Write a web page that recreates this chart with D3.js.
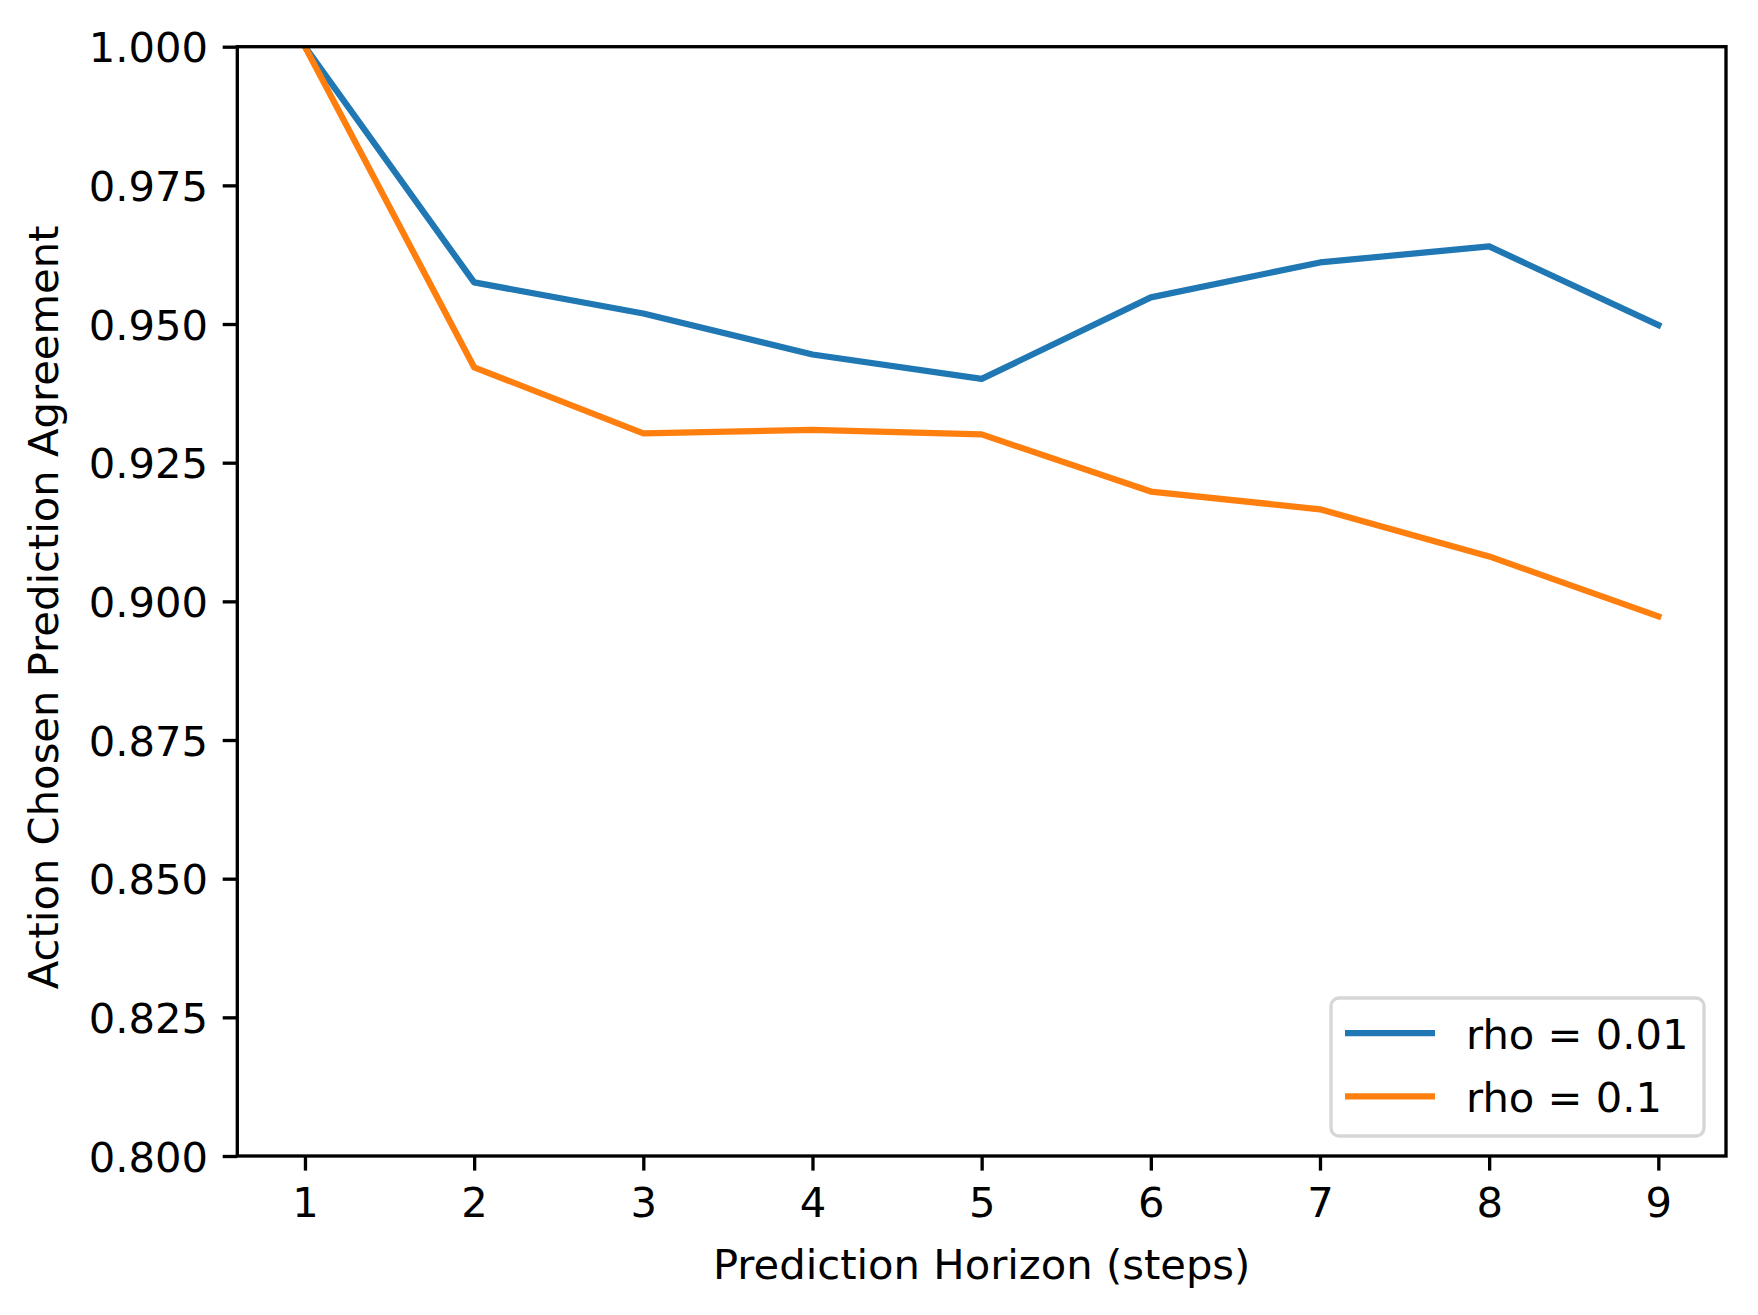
<!DOCTYPE html>
<html>
<head>
<meta charset="utf-8">
<script src="https://cdn.jsdelivr.net/npm/d3@7"></script>
<style>
  body { margin: 0; background: #fff; }
  text { font-family: "DejaVu Sans", sans-serif; fill: #000; }
</style>
</head>
<body>
<script>
// Data
var horizons = [1, 2, 3, 4, 5, 6, 7, 8, 9];
var rho001 = [1.000, 0.9575, 0.9519, 0.9445, 0.9401, 0.9548, 0.9611, 0.9640, 0.9498];
var rho01 = [1.000, 0.9422, 0.9303, 0.9309, 0.9301, 0.9198, 0.9166, 0.9081, 0.8973];
var seriesNames = ["rho = 0.01", "rho = 0.1"];
var yTicks = [0.800, 0.825, 0.850, 0.875, 0.900, 0.925, 0.950, 0.975, 1.000];

var series = [
  {name: seriesNames[0], values: rho001, color: "#1f77b4"},
  {name: seriesNames[1], values: rho01, color: "#ff7f0e"}
];

// Set up the dimensions of the chart
var W = 1758, H = 1315;
var margin = {top: 46.7, right: 32, bottom: 159, left: 237.3},
    width = W - margin.left - margin.right,
    height = H - margin.top - margin.bottom;

var fs = 41.7;        // 10pt at 300 dpi
var lw = 3.33;        // 0.8pt spine / tick width
var tickLen = 14.6;   // 3.5pt

var svg = d3.select("body").append("svg")
    .attr("width", W)
    .attr("height", H)
  .append("g")
    .attr("transform", "translate(" + margin.left + "," + margin.top + ")");

// X scale with matplotlib-like 5% margins
var x = d3.scaleLinear()
    .domain([1 - 0.4, 9 + 0.4])
    .range([0, width]);

// Y scale
var y = d3.scaleLinear()
    .domain([0.8, 1.0])
    .range([height, 0]);

svg.append("clipPath").attr("id", "clip")
  .append("rect").attr("width", width).attr("height", height);

// Lines
var line = d3.line()
    .x(function(d, i) { return x(horizons[i]); })
    .y(function(d) { return y(d); });

svg.append("g").attr("clip-path", "url(#clip)")
  .selectAll(".line")
  .data(series)
  .enter().append("path")
    .attr("class", "line")
    .attr("fill", "none")
    .attr("stroke", function(d) { return d.color; })
    .attr("stroke-width", 6.25)
    .attr("stroke-linejoin", "round")
    .attr("stroke-linecap", "square")
    .attr("d", function(d) { return line(d.values); });

// X axis
var xAxis = svg.append("g")
    .attr("transform", "translate(0," + height + ")")
    .call(d3.axisBottom(x).tickValues(horizons).tickFormat(d3.format("d"))
      .tickSize(tickLen).tickPadding(14.6));
xAxis.select(".domain").remove();
xAxis.selectAll("line").attr("stroke-width", lw);
xAxis.selectAll("text")
    .style("font-size", fs + "px")
    .attr("dy", "0.76em");

// Y axis
var yAxis = svg.append("g")
    .call(d3.axisLeft(y).tickValues(yTicks).tickFormat(d3.format(".3f"))
      .tickSize(tickLen).tickPadding(14.6));
yAxis.select(".domain").remove();
yAxis.selectAll("line").attr("stroke-width", lw);
yAxis.selectAll("text")
    .style("font-size", fs + "px")
    .attr("dy", "0.36em");

// Spines
svg.append("rect")
    .attr("width", width)
    .attr("height", height)
    .attr("fill", "none")
    .attr("stroke", "#000")
    .attr("stroke-width", lw);

// Legend
var legend = svg.append("g")
    .attr("transform", "translate(" + (width - 395) + "," + (height - 158) + ")");
legend.append("rect")
    .attr("width", 373)
    .attr("height", 138)
    .attr("rx", 8)
    .attr("fill", "#fff")
    .attr("fill-opacity", 0.8)
    .attr("stroke", "#d6d6d6")
    .attr("stroke-width", lw);
var items = legend.selectAll(".item")
    .data(series)
    .enter().append("g")
    .attr("transform", function(d, i) { return "translate(0," + (35 + i * 63.3) + ")"; });
items.append("line")
    .attr("x1", 14).attr("x2", 104)
    .attr("stroke", function(d) { return d.color; })
    .attr("stroke-width", 6.25);
items.append("text")
    .attr("x", 135)
    .attr("dy", "0.38em")
    .style("font-size", fs + "px")
    .text(function(d) { return d.name; });

// Add x-axis label
svg.append("text")
    .attr("x", width / 2)
    .attr("y", height + 123)
    .attr("text-anchor", "middle")
    .style("font-size", fs + "px")
    .text("Prediction Horizon (steps)");

// Add y-axis label
svg.append("text")
    .attr("transform", "rotate(-90)")
    .attr("x", -height / 2 - 6)
    .attr("y", -margin.left + 58)
    .attr("text-anchor", "middle")
    .style("font-size", fs + "px")
    .text("Action Chosen Prediction Agreement");
</script>
</body>
</html>
